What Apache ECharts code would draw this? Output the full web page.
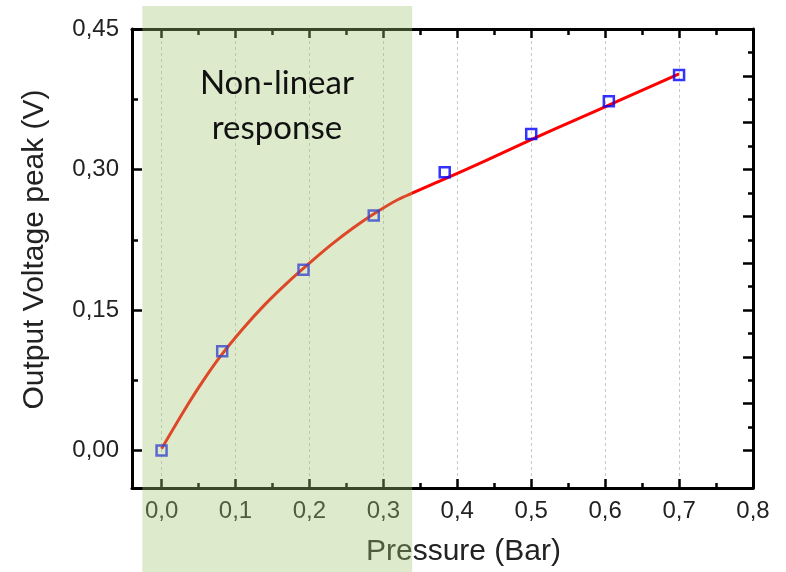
<!DOCTYPE html>
<html>
<head>
<meta charset="utf-8">
<script src="https://cdn.jsdelivr.net/npm/echarts@6/dist/echarts.min.js"></script>
<style>
html, body { margin: 0; background: #fff; }
#container { width: 786px; height: 572px; }
</style>
</head>
<body>
<div id="container"></div>
<script>
// measured points
var pressure = [0.000, 0.082, 0.192, 0.287, 0.383, 0.500, 0.605, 0.700];
var voltage = [0.000, 0.106, 0.193, 0.251, 0.297, 0.338, 0.373, 0.401];

// red fit curve
var fitX = [0.000, 0.030, 0.055, 0.080, 0.110, 0.140, 0.170, 0.200, 0.230, 0.260, 0.290, 0.320, 0.380, 0.440, 0.500, 0.560, 0.620, 0.700];
var fitY = [0.002, 0.042, 0.073, 0.101, 0.130, 0.156, 0.179, 0.200, 0.220, 0.238, 0.254, 0.268, 0.289, 0.310, 0.332, 0.353, 0.374, 0.402];

// ticks
var xMajor = [0, 0.1, 0.2, 0.3, 0.4, 0.5, 0.6, 0.7, 0.8];
var xMinor = [0.05, 0.15, 0.25, 0.35, 0.45, 0.55, 0.65, 0.75];
var yMajor = [0, 0.15, 0.30, 0.45];
var yMinor = [0.075, 0.225, 0.375];
var rightMajor = [0, 0.05, 0.10, 0.15, 0.20, 0.25, 0.30, 0.35, 0.40];
var rightMinor = [0.025, 0.075, 0.125, 0.175, 0.225, 0.275, 0.325, 0.375, 0.425];

// shaded "non-linear" band (pressure range)
var shadeRange = [-0.026, 0.339];

var xMin = -0.04, xMax = 0.8, yMin = -0.04, yMax = 0.45;
var labelFont = { color: '#222', fontSize: 24, fontFamily: 'Liberation Sans, Arial, sans-serif' };

function tickAxis(pos, min, max, ticks, len, showLine) {
    return {
        type: 'value',
        position: pos,
        min: min,
        max: max,
        axisLine: { show: showLine, onZero: false, lineStyle: { color: '#000', width: 3 } },
        axisTick: { show: true, inside: true, length: len, customValues: ticks, lineStyle: { color: '#000', width: 2.5 } },
        axisLabel: { show: false },
        splitLine: { show: false }
    };
}

var myChart = echarts.init(document.getElementById('container'));

var xMain = tickAxis('bottom', xMin, xMax, xMajor, 9, true);
xMain.axisLabel = Object.assign({
    show: true,
    margin: 11,
    customValues: xMajor,
    formatter: function (v) { return v.toFixed(1).replace('.', ','); }
}, labelFont);
xMain.splitLine = { show: true, lineStyle: { color: '#c8c8c8', width: 1, type: [3, 3] } };
xMain.name = 'Pressure (Bar)';
xMain.nameLocation = 'middle';
xMain.nameGap = 49;
xMain.nameTextStyle = { color: '#222', fontSize: 30, fontFamily: 'Liberation Sans, Arial, sans-serif', padding: [0, 0, 0, 42] };

var yMain = tickAxis('left', yMin, yMax, yMajor, 10, true);
yMain.axisLabel = Object.assign({
    show: true,
    margin: 13,
    customValues: yMajor,
    formatter: function (v) { return v.toFixed(2).replace('.', ','); }
}, labelFont);
yMain.name = 'Output Voltage peak (V)';
yMain.nameLocation = 'middle';
yMain.nameGap = 82;
yMain.nameTextStyle = { color: '#222', fontSize: 30, fontFamily: 'Liberation Sans, Arial, sans-serif', padding: [0, 0, 0, 18] };

option = {
    animation: false,
    backgroundColor: '#fff',
    grid: { left: 132, top: 29, right: 33, bottom: 84, outerBoundsMode: 'none' },
    xAxis: [
        xMain,
        tickAxis('bottom', xMin, xMax, xMinor, 5, false),
        tickAxis('top', xMin, xMax, xMajor.slice(0, 8), 9, true),
        tickAxis('top', xMin, xMax, xMinor, 6, false)
    ],
    yAxis: [
        yMain,
        tickAxis('left', yMin, yMax, yMinor, 6, false),
        tickAxis('right', yMin, yMax, rightMajor, 10, true),
        tickAxis('right', yMin, yMax, rightMinor, 5, false)
    ],
    series: [{
        name: 'fit',
        type: 'line',
        xAxisIndex: 0,
        yAxisIndex: 0,
        smooth: 0.2,
        showSymbol: false,
        z: 3,
        lineStyle: { color: '#ff0000', width: 3, join: 'round' },
        data: fitX.map(function (x, i) { return [x, fitY[i]]; })
    }, {
        name: 'measured',
        type: 'scatter',
        xAxisIndex: 0,
        yAxisIndex: 0,
        symbol: 'rect',
        symbolSize: 10,
        z: 4,
        itemStyle: { color: 'rgba(0,0,0,0)', borderColor: '#0000ff', borderWidth: 2.5 },
        data: pressure.map(function (x, i) { return [x, voltage[i]]; })
    }]
};

myChart.setOption(option);

// green band on top of everything, spanning the full height
var finder = { xAxisIndex: 0, yAxisIndex: 0 };
var p0 = myChart.convertToPixel(finder, [shadeRange[0], 0]);
var p1 = myChart.convertToPixel(finder, [shadeRange[1], 0]);
var tp = myChart.convertToPixel(finder, [0.156, 0.368]);

myChart.setOption({
    graphic: [{
        type: 'rect',
        z: 100,
        silent: true,
        shape: { x: p0[0], y: 6, width: p1[0] - p0[0], height: 572 },
        style: { fill: 'rgba(160,200,115,0.36)' }
    }, {
        type: 'text',
        z: 101,
        silent: true,
        x: tp[0],
        y: tp[1],
        style: {
            text: 'Non-linear\nresponse',
            fill: '#111',
            font: '33px Lato, sans-serif',
            lineHeight: 45,
            align: 'center',
            verticalAlign: 'middle'
        }
    }]
});
</script>
</body>
</html>
